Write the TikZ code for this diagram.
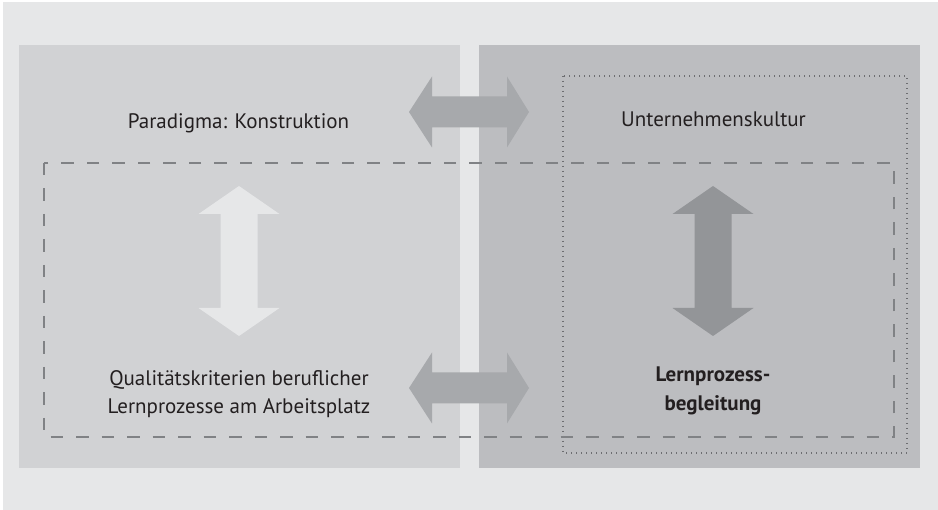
\documentclass[tikz,border=0pt]{standalone}
\usepackage{fontspec}
\setmainfont{PT Sans}
\definecolor{bggrey}{HTML}{E6E7E8}
\definecolor{leftpanel}{HTML}{D1D2D4}
\definecolor{rightpanel}{HTML}{BCBDC0}
\definecolor{harrow}{HTML}{A7A9AC}
\definecolor{varrowlight}{HTML}{E6E7E8}
\definecolor{varrowdark}{HTML}{939598}
\definecolor{dashgrey}{HTML}{808285}
\definecolor{dotgrey}{HTML}{6D6E71}
\definecolor{textcol}{HTML}{231F20}
\tikzset{
  lbl/.style={text=textcol, font=\fontsize{21}{28}\selectfont, align=center, inner sep=0pt},
  boldlbl/.style={lbl, font=\fontsize{21}{28}\selectfont\bfseries},
  dashbox/.style={draw=dashgrey, line width=1.2pt, dash pattern=on 12.5pt off 13pt},
  dotbox/.style={draw=dotgrey, line width=1.3pt, dash pattern=on 1pt off 4pt},
}
\begin{document}
\begin{tikzpicture}[x=1pt,y=-1pt]
\useasboundingbox (0,0) rectangle (938,510);
\fill[white] (0,0) rectangle (938,510);
\fill[bggrey] (3,2) rectangle (938,510);
% panels
\fill[leftpanel] (19,45) rectangle (460,468);
\fill[rightpanel] (479,45) rectangle (920,468);
% frames
\draw[dotbox] (563,76) rectangle (907,453);
\draw[dashbox] (44,163) rectangle (894,437);
% horizontal double arrows
\foreach \yy in {112,388}{
  \fill[harrow] (409,\yy) -- (432,\yy-35.5) -- (432,\yy-15.5) -- (507,\yy-15.5) -- (507,\yy-35.5)
    -- (529,\yy) -- (507,\yy+35.5) -- (507,\yy+15.5) -- (432,\yy+15.5) -- (432,\yy+35.5) -- cycle;
}
% vertical double arrows
\foreach \xx/\col in {239/varrowlight,713/varrowdark}{
  \fill[\col] (\xx,186) -- (\xx+40.5,214) -- (\xx+18.5,214) -- (\xx+18.5,308) -- (\xx+40.5,308)
    -- (\xx,336) -- (\xx-40.5,308) -- (\xx-18.5,308) -- (\xx-18.5,214) -- (\xx-40.5,214) -- cycle;
}
% labels
\node[lbl, anchor=base] (para) at (238.5,129) {Paradigma: Konstruktion};
\node[lbl, anchor=base] (kultur) at (713.5,127) {Unternehmenskultur};
\node[lbl, anchor=base] (quali) at (239,386) {Qualitätskriterien beruflicher};
\node[lbl, anchor=base] (lernp) at (239,414) {Lernprozesse am Arbeitsplatz};
\node[boldlbl, anchor=base] (begl1) at (713,382) {Lernprozess-};
\node[boldlbl, anchor=base] (begl2) at (713,411) {begleitung};
\end{tikzpicture}
\end{document}
